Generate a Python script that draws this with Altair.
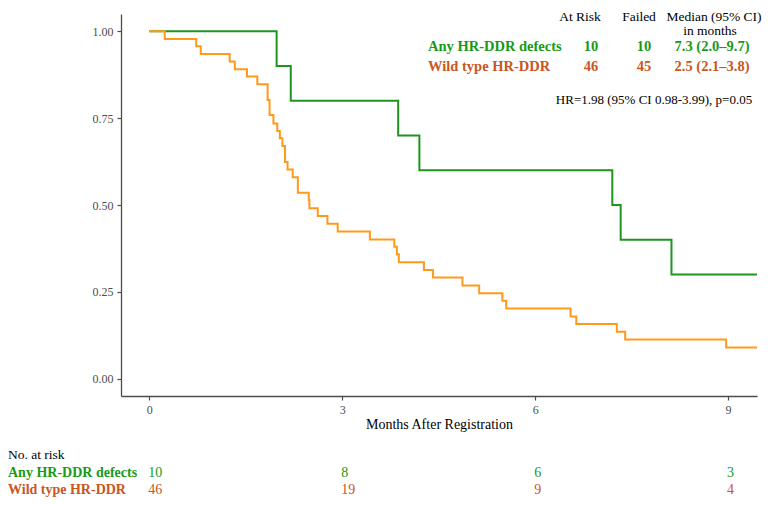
import altair as alt
import pandas as pd

# ---- Kaplan-Meier curves ----
green_t = [0, 1.98, 2.20, 3.87, 4.20, 7.20, 7.33, 8.12, 9.45]
green_s = [1.0, 0.9, 0.8, 0.7, 0.6, 0.5, 0.4, 0.3, 0.3]

orange_t = [0, 0.24, 0.73, 0.80, 1.25, 1.33, 1.52, 1.68, 1.84, 1.87, 1.93, 1.99,
            2.03, 2.07, 2.11, 2.15, 2.23, 2.31, 2.48, 2.49, 2.62, 2.77, 2.93,
            3.43, 3.81, 3.85, 3.88, 4.27, 4.41, 4.87, 5.13, 5.49, 5.55,
            6.55, 6.64, 7.27, 7.40, 8.97, 9.45]
orange_s = [1.0, 0.978, 0.957, 0.935, 0.913, 0.891, 0.870, 0.848, 0.802, 0.759,
            0.735, 0.713, 0.692, 0.670, 0.624, 0.602, 0.580, 0.535, 0.514, 0.491,
            0.468, 0.446, 0.424, 0.401, 0.380, 0.358, 0.335, 0.313, 0.291, 0.268,
            0.246, 0.224, 0.202, 0.179, 0.157, 0.135, 0.113, 0.090, 0.090]

# ---- Axis ticks ----
x_ticks = [0, 3, 6, 9]
y_ticks = [0.0, 0.25, 0.50, 0.75, 1.0]

# ---- Summary table (top right) ----
group_names = ["Any HR-DDR defects", "Wild type HR-DDR"]
at_risk_total = ["10", "46"]
failed = ["10", "45"]
median_ci = ["7.3 (2.0\u20139.7)", "2.5 (2.1\u20133.8)"]
header = ["At Risk", "Failed", "Median (95% CI)", "in months"]
hr_text = "HR=1.98 (95% CI 0.98-3.99), p=0.05"

# ---- Numbers at risk (bottom) ----
risk_times = [0, 3, 6, 9]
risk_any = [10, 8, 6, 3]
risk_wild = [46, 19, 9, 4]

# ---- styling ----
W, H = 636, 382
FONT = "Liberation Serif"
GREEN_LINE = "#1E961E"
ORANGE_LINE = "#FF991C"
GREEN_TXT = "#189A18"
ORANGE_TXT = "#C9561D"
AX = "#4d4d4d"

x_scale = alt.Scale(domain=[-0.44, 9.45], nice=False, zero=False)
y_scale = alt.Scale(domain=[-0.05, 1.05], nice=False, zero=False)

x_axis = alt.Axis(values=x_ticks, format="d", title="Months After Registration",
                  grid=False, labelPadding=4, titlePadding=2)
y_axis = alt.Axis(values=y_ticks, format=".2f", title=None, grid=False, labelPadding=4)


def km(t, s, color):
    df = pd.DataFrame({"t": t, "s": s})
    return alt.Chart(df).mark_line(interpolate="step-after", color=color,
                                   strokeWidth=2).encode(
        x=alt.X("t:Q", scale=x_scale, axis=x_axis),
        y=alt.Y("s:Q", scale=y_scale, axis=y_axis),
    )


def label(text, x, y, color="black", bold=False, align="left", size=14):
    return alt.Chart(pd.DataFrame({"l": [text]})).mark_text(
        align=align, baseline="alphabetic", font=FONT, fontSize=size,
        fontWeight="bold" if bold else "normal", color=color,
    ).encode(text="l:N", x=alt.value(x), y=alt.value(y))


layers = [km(green_t, green_s, GREEN_LINE), km(orange_t, orange_s, ORANGE_LINE)]

# header
layers.append(label(header[0], 459, 6.5, align="center", size=13.5))
layers.append(label(header[1], 518, 6.5, align="center", size=13.5))
layers.append(label(header[2], 593, 6.5, align="center", size=13.5))
layers.append(label(header[3], 589, 21, align="center", size=13.5))
row_y = [37, 57]
colors = [GREEN_TXT, ORANGE_TXT]
for i in range(2):
    layers.append(label(group_names[i], 307, row_y[i], color=colors[i], bold=True, size=14.5))
    layers.append(label(at_risk_total[i], 470, row_y[i], color=colors[i], bold=True, align="center", size=14.5))
    layers.append(label(failed[i], 523, row_y[i], color=colors[i], bold=True, align="center", size=14.5))
    layers.append(label(median_ci[i], 591, row_y[i], color=colors[i], bold=True, align="center", size=14.5))
layers.append(label(hr_text, 533, 90, align="center", size=13))

# at-risk table
layers.append(label("No. at risk", -113, 445, size=13.5))
bot_y = [463, 480]
risk_vals = [risk_any, risk_wild]
for i in range(2):
    layers.append(label(group_names[i], -113, bot_y[i], color=colors[i], bold=True))
    df = pd.DataFrame({"t": risk_times, "n": risk_vals[i]})
    layers.append(alt.Chart(df).mark_text(
        align="left", baseline="alphabetic", font=FONT, fontSize=14, color=colors[i], dx=-1
    ).encode(x=alt.X("t:Q", scale=x_scale, axis=x_axis), y=alt.value(bot_y[i]), text="n:Q"))

chart = alt.layer(*layers).properties(
    width=W, height=H,
    autosize=alt.AutoSizeParams(type="none"),
    padding={"left": 113, "top": 6, "right": 7, "bottom": 101},
).configure_view(stroke=None).configure_axis(
    domainColor=AX, tickColor=AX, labelColor=AX, labelFont=FONT, titleFont=FONT,
    labelFontSize=12, titleFontSize=14, titleColor="black", titleFontWeight="normal",
    tickSize=4, domainWidth=1.3, tickWidth=1.2,
)

chart.save("out.html", embed_options={"renderer": "svg", "actions": False})
